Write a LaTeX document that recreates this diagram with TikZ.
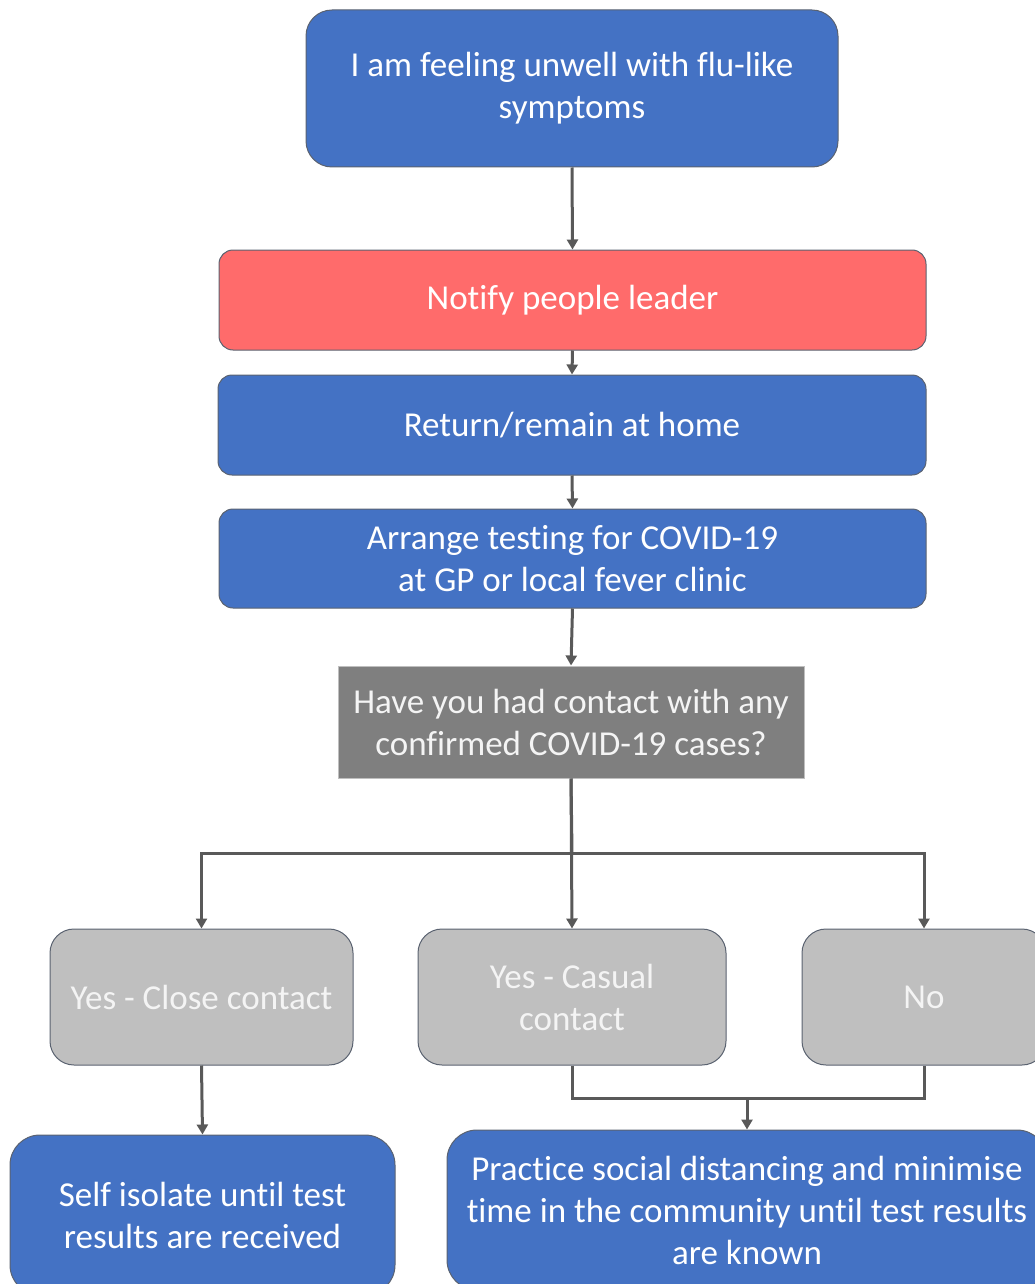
\documentclass[tikz,border=0pt]{standalone}
\usepackage{fontspec}
\setmainfont{Carlito}[Ligatures=NoCommon]
\usetikzlibrary{arrows.meta}
\definecolor{cblue}{HTML}{4472C4}
\definecolor{cred}{HTML}{FF6B6B}
\definecolor{clgray}{HTML}{BFBFBF}
\definecolor{cdgray}{HTML}{7F7F7F}
\definecolor{carrow}{HTML}{595959}
\definecolor{cedge}{HTML}{5A6270}
\definecolor{ctext}{HTML}{F4F4F4}
\tikzset{
  box/.style={draw=cedge, line width=1pt, rounded corners=#1, align=center,
    text=white, inner sep=0pt, font=\fontsize{35}{42}\selectfont, anchor=center},
  box/.default=14pt,
  bluebox/.style={box=#1, fill=cblue},
  bluebox/.default=14pt,
  redbox/.style={box=14pt, fill=cred},
  graybox/.style={box=24pt, fill=clgray, text=ctext},
  qbox/.style={draw=clgray, line width=1pt, fill=cdgray, text=ctext, align=center,
    inner sep=0pt, font=\fontsize{35}{42}\selectfont, anchor=center},
  conn/.style={draw=carrow, line width=3pt, -{Triangle[length=10pt,width=11pt]}},
  plain/.style={draw=carrow, line width=3pt}
}
\begin{document}
\begin{tikzpicture}[x=1pt,y=-1pt]
\useasboundingbox (0,0) rectangle (1035,1284);
\clip (0,0) rectangle (1035,1284);
\node[bluebox=26pt, minimum width=532pt, minimum height=157pt] (feel) at (572,88.5) {I am feeling unwell with flu-like\\symptoms};
\node[redbox, minimum width=707pt, minimum height=100pt] (notify) at (572.5,300) {Notify people leader};
\node[bluebox, minimum width=708pt, minimum height=100pt] (home) at (572,425) {Return/remain at home};
\node[bluebox, minimum width=707pt, minimum height=99pt] (test) at (572.5,558.5) {Arrange testing for COVID-19\\at GP or local fever clinic};
\node[qbox, minimum width=466pt, minimum height=112pt] (q) at (571,722) {Have you had contact with any\\confirmed COVID-19 cases?};
\node[graybox, minimum width=303pt, minimum height=136pt] (close) at (201.5,997) {Yes - Close contact};
\node[graybox, minimum width=308pt, minimum height=136pt] (casual) at (572,997) {Yes - Casual\\contact};
\node[graybox, minimum width=244pt, minimum height=136pt] (no) at (924,997) {No};
\node[bluebox=30pt, minimum width=385pt, minimum height=160pt] (self) at (202.5,1215) {Self isolate until test\\results are received};
\node[bluebox=30pt, minimum width=600pt, minimum height=160pt] (prac) at (747,1210) {Practice social distancing and minimise\\time in the community until test results\\are known};
\coordinate (split) at (572,853);
\coordinate (join) at (747,1098);
\draw[conn] (feel.south) -- (notify.north);
\draw[conn] (notify.south) -- (home.north);
\draw[conn] (home.south) -- (test.north);
\draw[conn] (test.south) -- (q.north);
\draw[plain] (q.south) -- (split);
\draw[conn] (split) -| (close.north);
\draw[conn] (q.south) -- (casual.north);
\draw[conn] (split) -| (no.north);
\draw[conn] (close.south) -- (self.north);
\draw[plain] (casual.south) |- (join);
\draw[plain] (no.south) |- (join);
\draw[conn] (join) -- (prac.north);
\end{tikzpicture}
\end{document}
